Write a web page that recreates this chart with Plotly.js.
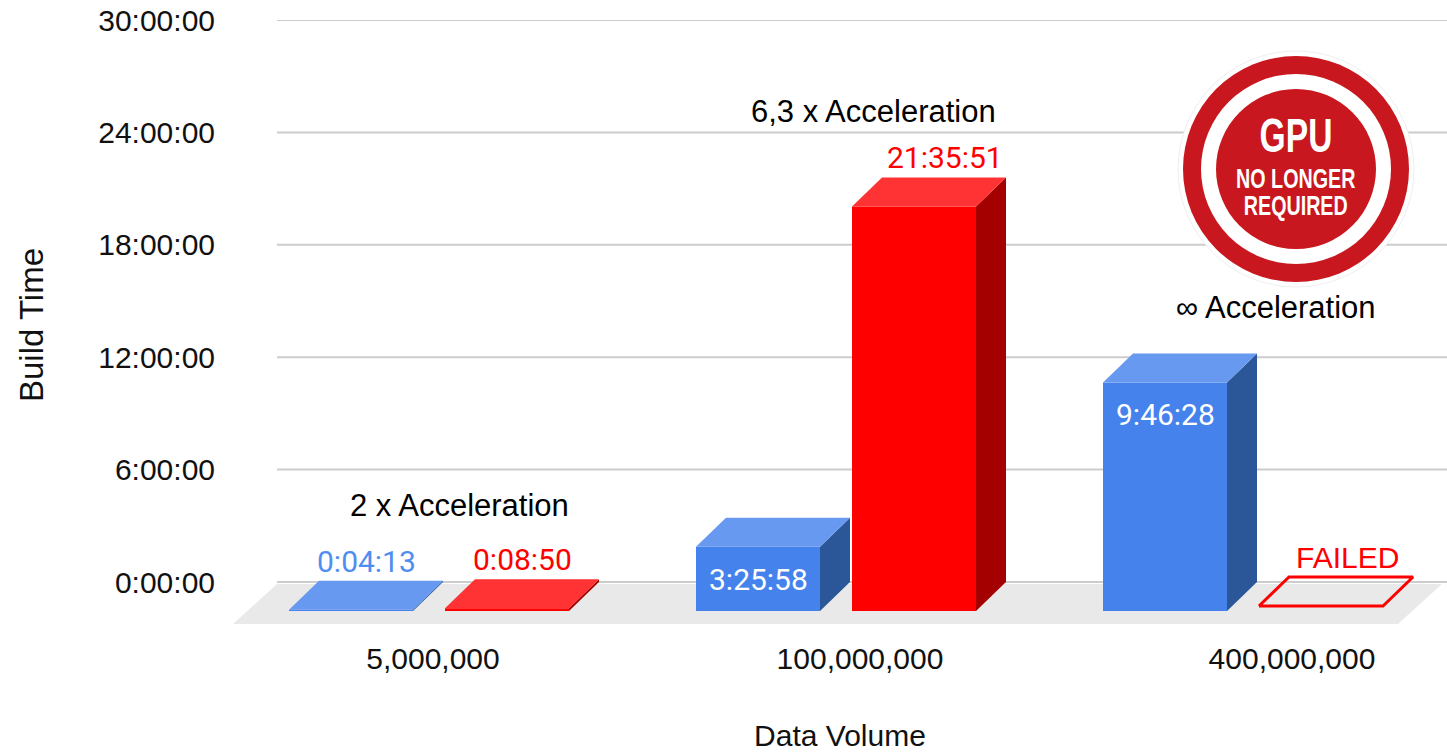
<!DOCTYPE html>
<html><head><meta charset="utf-8">
<script src="https://cdn.plot.ly/plotly-3.0.1.min.js"></script>
<style>html,body{margin:0;padding:0;background:#fff;} #chart{width:1447px;height:752px;}</style>
</head><body><div id="chart"></div>
<script>
// ---------------- data ----------------
const categories = ['5,000,000', '100,000,000', '400,000,000'];
const blueHours = [0.0703, 3.4328, 12.2];        // bar heights as drawn (hours)
const redHours = [0.1472, 21.5975, null];         // null = failed run
const blueLabels = ['0:04:13', '3:25:58', '9:46:28'];
const redLabels = ['0:08:50', '21:35:51', 'FAILED'];
const accelLabels = ['2 x Acceleration', '6,3 x Acceleration', '\u221E Acceleration'];
const yTickVals = [0, 6, 12, 18, 24, 30];
const yTickText = ['0:00:00', '6:00:00', '12:00:00', '18:00:00', '24:00:00', '30:00:00'];

// ---------------- layout geometry / styles ----------------
const W = 1447, H = 752, ML = 233, MR = 0, MT = 20, MB = 122;
const plotW = W - ML - MR, plotH = H - MT - MB;
const pxPerUnit = 407;
const pxPerHour = 562 / 30;
const xMin = -(429 - ML) / pxPerUnit;
const xMax = xMin + plotW / pxPerUnit;
const yMax = 30, yMin = yMax - plotH / pxPerHour;
const DX = 30 / pxPerUnit, DY = 29 / pxPerHour;       // 3D depth
const barW = 124 / pxPerUnit, halfGap = 16 / pxPerUnit;
const blueLabelPos = ['above', 'inside', 'inside'];
const redLabelShift = [0, 16, 11];
const tickOffsets = [4, 24, 49].map(p => p / pxPerUnit);
const accelOffsets = [[30, 4.11], [37, 25.14], [33, 14.63]];
const failedLift = 5 / pxPerHour;

const groups = categories.map((c, i) => i);
const colors = {
  blue: {front: '#4582ec', top: '#6899f0', side: '#2b5799', label: '#4f8ef0'},
  red: {front: '#ff0000', top: '#ff3333', side: '#a50000', label: '#ff0000'}
};
const sansFont = 'Liberation Sans, Arial, sans-serif';

function facePolys(values, leftOf) {
  const top = {x: [], y: []}, side = {x: [], y: []};
  values.forEach((v, i) => {
    if (v === null) return;
    const xl = leftOf(groups[i]), xr = xl + barW;
    const b = -DY, t = v - DY;
    top.x.push(xl, xr, xr + DX, xl + DX, xl, null);
    top.y.push(t, t, t + DY, t + DY, t, null);
    side.x.push(xr, xr, xr + DX, xr + DX, xr, null);
    side.y.push(b, t, t + DY, b + DY, b, null);
  });
  return {top, side};
}
const blueLeft = g => g - halfGap - barW;
const redLeft = g => g + halfGap;
const bluePolys = facePolys(blueHours, blueLeft);
const redPolys = facePolys(redHours, redLeft);

const traces = [];
// bar fronts
traces.push({type: 'bar', name: 'blue', x: groups, y: blueHours, base: -DY, width: barW,
  offset: -halfGap - barW, marker: {color: colors.blue.front, line: {width: 0}}, hoverinfo: 'skip', showlegend: false});
traces.push({type: 'bar', name: 'red', x: groups, y: redHours, base: -DY, width: barW,
  offset: halfGap, marker: {color: colors.red.front, line: {width: 0}}, hoverinfo: 'skip', showlegend: false});
// sides and tops
[[bluePolys, colors.blue], [redPolys, colors.red]].forEach(([p, c]) => {
  traces.push({type: 'scatter', mode: 'lines', fill: 'toself', fillcolor: c.side, line: {width: 0, color: c.side},
    x: p.side.x, y: p.side.y, hoverinfo: 'skip', showlegend: false});
  traces.push({type: 'scatter', mode: 'lines', fill: 'toself', fillcolor: c.top, line: {width: 0, color: c.top},
    x: p.top.x, y: p.top.y, hoverinfo: 'skip', showlegend: false});
});
// failed outline
redHours.forEach((v, i) => {
  if (v !== null) return;
  const xl = redLeft(groups[i]), xr = xl + barW, b = -DY + failedLift;
  traces.push({type: 'scatter', mode: 'lines', line: {color: '#ff0000', width: 3},
    x: [xl, xr, xr + DX, xl + DX, xl], y: [b, b, b + DY, b + DY, b], hoverinfo: 'skip', showlegend: false});
});

// ---------------- annotations ----------------
const annotations = [];
const valFont = (color) => ({family: 'Roboto, sans-serif', size: 30, color});
blueHours.forEach((v, i) => {
  const xl = blueLeft(groups[i]);
  if (blueLabelPos[i] === 'inside') {
    annotations.push({x: xl + barW / 2, y: v - DY, xref: 'x', yref: 'y', text: blueLabels[i], showarrow: false,
      xanchor: 'center', yanchor: 'top', yshift: -13, font: valFont('#ffffff')});
  } else {
    annotations.push({x: xl + barW / 2 + DX / 2, y: v, xref: 'x', yref: 'y', text: blueLabels[i], showarrow: false,
      xanchor: 'center', yanchor: 'bottom', yshift: 0, font: valFont(colors.blue.label)});
  }
});
redHours.forEach((v, i) => {
  const xl = redLeft(groups[i]);
  const failed = v === null;
  annotations.push({x: xl + barW / 2 + DX / 2 + redLabelShift[i] / pxPerUnit, y: failed ? 0 : v, xref: 'x', yref: 'y',
    text: redLabels[i], showarrow: false, xanchor: 'center', yanchor: 'bottom', yshift: failed ? 6 : 0,
    font: failed ? {family: sansFont, size: 30, color: '#ff0000'} : valFont(colors.red.label)});
});
accelLabels.forEach((t, i) => {
  annotations.push({x: groups[i] + accelOffsets[i][0] / pxPerUnit, y: accelOffsets[i][1], xref: 'x', yref: 'y', text: t,
    showarrow: false, xanchor: 'center', yanchor: 'middle', font: {family: sansFont, size: 31, color: '#000000'}});
});

// stamp (GPU no longer required)
const px2paperX = px => (px - ML) / plotW;
const px2paperY = py => (H - MB - py) / plotH;
const stampCx = px2paperX(1296), stampCy = px2paperY(169);
const circle = (r, color, line) => ({type: 'circle', xref: 'paper', yref: 'paper', xsizemode: 'pixel', ysizemode: 'pixel',
  xanchor: stampCx, yanchor: stampCy, x0: -r, x1: r, y0: -r, y1: r, fillcolor: color,
  line: line || {width: 0}, layer: 'above'});
const stampIdx = [];
const stampScale = [0.70, 0.73];
const stampLineGap = 27.5;   // px between the two small lines
[['GPU', 135, 48], ['NO LONGER<br>REQUIRED', 192.25, 27]].forEach(([t, py, s]) => {
  stampIdx.push(annotations.length);
  annotations.push({x: stampCx, y: px2paperY(py), xref: 'paper', yref: 'paper', text: t, showarrow: false,
    xanchor: 'center', yanchor: 'middle', font: {family: sansFont, size: s, color: '#ffffff', weight: 700}});
});

// floor (3D base) and gridlines
const floorBackY = -2 / pxPerHour, floorFrontY = -42 / pxPerHour;
const fbl = xMin + 44 / pxPerUnit, fbr = xMax - 5 / pxPerUnit, fdx = 44 / pxPerUnit;
const shapes = [{type: 'path', xref: 'x', yref: 'y', layer: 'below', fillcolor: '#e9e9e9', line: {width: 0},
  path: `M${xMin},${floorFrontY} L${fbl},${floorBackY} L${fbr},${floorBackY} L${fbr - fdx},${floorFrontY} Z`}];
yTickVals.forEach(v => shapes.push({type: 'line', xref: 'x', yref: 'y', x0: fbl, x1: xMax, y0: v, y1: v,
  line: {color: '#cccccc', width: 2}, layer: 'below'}));
shapes.push(circle(118, '#ffffff', {width: 1, color: '#eeeeee'}), circle(113, '#c8171e'), circle(95, '#ffffff'), circle(80, '#c8171e'));

const layout = {
  width: W, height: H, margin: {l: ML, r: MR, t: MT, b: MB, pad: 0},
  paper_bgcolor: '#ffffff', plot_bgcolor: 'rgba(0,0,0,0)',
  barmode: 'overlay', showlegend: false,
  xaxis: {range: [xMin, xMax], tickvals: groups.map((g, i) => g + tickOffsets[i]), ticktext: categories,
    showgrid: false, zeroline: false, showline: false, ticks: '', ticklabelstandoff: 8, automargin: false, fixedrange: true,
    tickfont: {family: sansFont, size: 30, color: '#111111'},
    title: {text: 'Data Volume', standoff: 52, font: {family: sansFont, size: 30, color: '#111111'}}},
  yaxis: {range: [yMin, yMax], tickvals: yTickVals, ticktext: yTickText, showgrid: false, zeroline: false, showline: false,
    ticks: '', ticklabelstandoff: 17, automargin: false, fixedrange: true,
    tickfont: {family: sansFont, size: 30, color: '#111111'},
    title: {text: 'Build Time', standoff: 44, font: {family: sansFont, size: 33, color: '#111111'}}},
  annotations, shapes
};
Plotly.newPlot('chart', traces, layout, {displayModeBar: false, staticPlot: true}).then(() => {
  // condense the stamp lettering horizontally and tighten its line spacing
  stampIdx.forEach((i, k) => {
    document.querySelectorAll('.annotation[data-index="' + i + '"] text.annotation-text').forEach(el => {
      let dyShift = 0;
      const lines = el.querySelectorAll('tspan.line');
      if (lines.length > 1) {
        const size = annotations[i].font.size;
        const oldGap = 1.3 * size;
        lines.forEach((ln, j) => ln.setAttribute('dy', (j * stampLineGap / size) + 'em'));
        dyShift = (oldGap - stampLineGap) / 2;
      }
      const bb = el.getBBox();
      const cx = bb.x + bb.width / 2;
      el.setAttribute('transform', `translate(0,${dyShift}) translate(${cx},0) scale(${stampScale[k]},1) translate(${-cx},0)`);
    });
  });
});
</script></body></html>
